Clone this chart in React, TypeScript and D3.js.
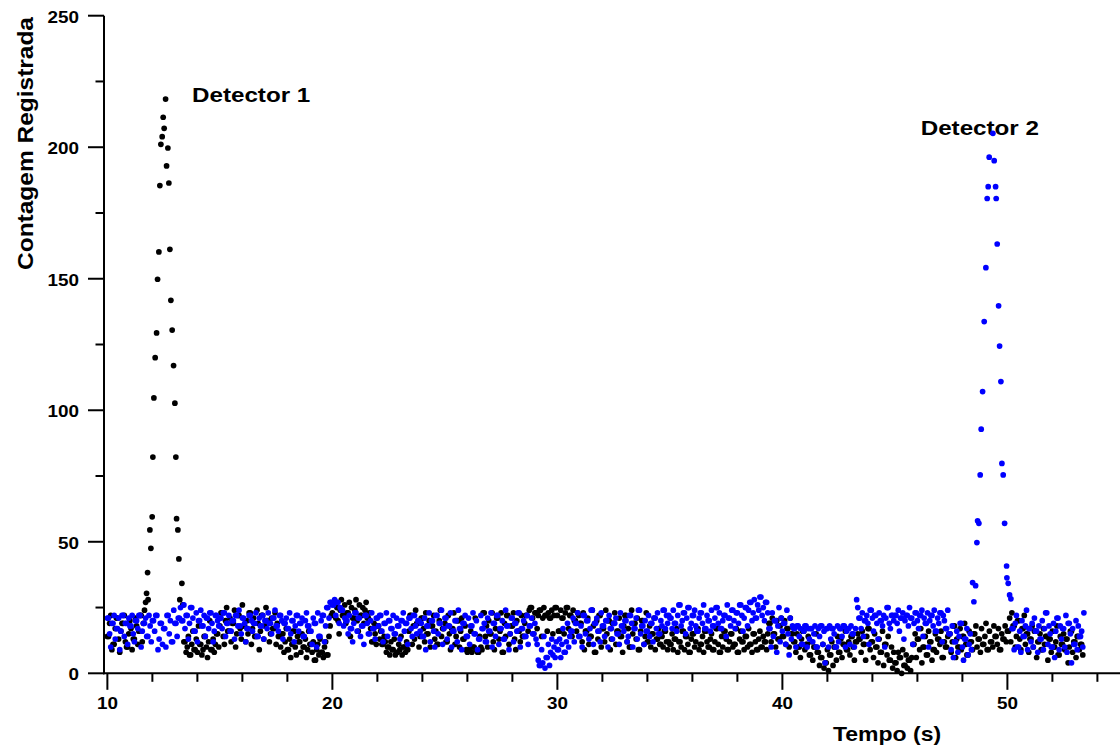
import React from 'react';
import * as d3 from 'd3';

// ---------- data ----------
const DT = 0.05;

// Detector 1 (black): background segments (start time, one count every DT) and the peak
const black1Start = 10.0;
const black1 = [14,14,19,22,9,11,11,17,21,21,13,8,16,19,19,22,12,10,10,15,20,17,9,13,13,21,18,11,16,22,22,12,19,24,27];
const blackPeakT = [11.742,11.787,11.81,11.889,11.933,11.991,12.022,12.067,12.124,12.187,12.231,12.289,12.333,12.378,12.436,12.48,12.524,12.587,12.631,12.689,12.733,12.778,12.822,12.88,12.942,13.0,13.044,13.076,13.133,13.178,13.22,13.311];
const blackPeakV = [30.4,38.3,28,54.5,47.5,59.5,82.2,104.7,120,129.4,149.8,160.2,185.4,201.1,204,211.4,207.2,218.3,192.9,199.7,186.4,161.2,141.8,130.5,117,102.7,82.2,58.8,54.5,43.5,28,34.2];
const black2Start = 13.35;
const black2 = [26,12,12,8,10,14,7,7,11,16,9,9,13,8,18,11,11,7,9,14,14,10,6,12,20,9,9,13,8,11,15,15,10,
  18,23,23,14,11,20,25,16,16,21,12,19,19,24,10,15,22,22,17,13,26,18,18,12,20,15,23,23,11,17,21,14,14,24,19,9,16,22,22,13,18,25,20,20,12,15,21,17,17,23,11,19,14,14,
  10,15,15,8,12,17,9,9,13,6,11,16,16,10,7,14,12,12,8,15,10,10,13,6,9,16,11,11,
  8,12,5,5,9,11,7,13,8,8,6,10,12,7,7,14,18,22];
const black3Start = 20.0;
const black3 = [23,27,27,21,25,20,15,24,28,22,22,26,19,23,23,27,14,25,21,21,24,28,20,16,26,22,22,25,19,24,27,21,21,23,
  17,12,12,19,15,11,18,18,13,16,11,11,14,12,
  8,10,10,7,12,9,9,13,7,8,8,11,9,14,7,10,10,8,12,9,
  16,22,22,11,18,13,24,19,19,10,14,21,21,17,12,23,15,15,20,10,18,18,22,13,16,11,11,20,24,14,17,17];
const black4Start = 25.0;
const black4 = [19,12,12,22,15,9,17,17,23,11,14,20,20,10,16,21,13,13,18,9,
  8,9,9,16,8,10,10,21,9,8,8,14,10,9,
  23,23,14,18,10,20,15,15,23,12,9,17,21,21,13,16,23,8,8,19,14,22,22,11,15,18,18,23,13,9,20,16,16,12,22,14,14,19,
  22,22,16,24,25,25,21,15,23,23,17,22,24,24,14,21,25,22,22,16,23,21,21,24,15,22,25,25];
const black5Start = 30.0;
const black5 = [22,16,16,24,21,21,15,23,25,25,17,22,22,14,24,20,20,16,23,22,
  19,19,12,23,9,16,16,21,11,14,14,24,18,8,8,20,13,22,22,10,
  17,17,12,24,15,20,20,9,13,19,19,23,11,16,16,21,14,14,8,18,
  22,22,12,17,10,10,24,15,19,19,13,21,9,9,16,20,20,11,14,23,
  12,12,18,10,15,15,21,9,13,13,17,11,11,14,10,16,16,12,9,12];
const black6Start = 35.0;
const black6 = [11,11,15,9,13,13,17,8,12,12,10,16,16,9,14,14,11,8,8,13,
  15,15,10,12,17,17,9,11,11,14,8,16,16,12,10,10,13,15,9,9,
  12,17,17,11,8,8,14,10,16,16,13,9,9,12,15,15,10,11,11,17,
  8,8,13,16,12,12,9,14,14,10,17,11,11,8,15,15,12,9,9,13,
  16,10,10,14,12,12,9,15,
  19,19,12,21,15,15,10,20,13,13,18,21];
const black7Start = 40.0;
const black7 = [14,14,20,11,17,17,10,21,15,15,
  12,12,8,15,10,10,6,13,16,16,9,11,11,14,7,7,12,5,10,10,
  15,8,8,3,6,6,11,2,4,4,9,1,7,7,12,3,10,10,5,14,
  8,8,13,6,11,11,16,9,9,12,7,14,14,10,5,12,12,15,
  13,13,8,16,11,11,5,14,17,17,9,12,12,6,15,10,10,4,13,8,8,16,3,11,11,7,14,5,5,10,2,8];
const black8Start = 45.0;
const black8 = [4,4,1,8,6,6,0,9,3,3,7,2,5,5,1,6,
  11,11,15,6,13,13,9,17,4,10,10,14,7,7,16,12,12,5,9,9,15,8,13,13,11,16,6,6,12,10,10,14,
  15,15,8,12,18,18,6,13,10,10,17,9,14,14,19,11,7,7,16,12,
  12,9,15,15,18,10,13,13,8,17,11,11,14,19,9,9,16,12,12,10,
  18,14,14,11,17,9,9,15,13,13,18,12];
const black9Start = 50.0;
const black9 = [16,16,21,12,23,18,18,10,14,20,20,13,9,17,17,22,11,15,15,8,
  13,13,18,10,16,16,6,12,12,15,9,9,17,11,14,14,5,13,13,8,
  16,10,10,12,18,7,7,14,11,11,15,9,13,13,4,10,16,16,8,12,
  12,6,14,14,9,11,11,7];

// Detector 2 (blue)
const blue1Start = 10.0;
const blue1 = [21,21,15,10,19,19,22,13,17,17,21,9,16,22,22,14,19,19,11,21,
  18,18,22,15,12,20,20,17,22,22,10,16,19,19,21,14,14,22,18,12,
  20,20,16,22,22,9,13,19,19,11,
  17,17,10,22,22,15,20,12,12,24,19,19,14,21,21,25,
  20,20,26,17,22,22,13,19,25,25,21,16,16,23,12,20,20,24,18,18,22,14,21,21,17,23,23,19,12,16,22,22,20,18];
const blue2Start = 15.0;
const blue2 = [21,21,17,23,23,14,19,19,22,16,16,20,20,13,22,22,18,24,18,15,
  21,21,19,12,17,17,22,22,20,16,19,19,23,14,14,21,18,18,22,13,
  20,20,17,23,19,19,15,21,21,24,18,18,16,22,22,20,13,19,19,21,
  17,17,23,15,20,20,12,18,22,22,16,19,19,21,14,14,20,23,18,18,
  16,16,11,21,19,19,10,23,14,14,20,22,22,12,18,25,25,21,27,27];
const blue3Start = 20.0;
const blue3 = [26,26,28,22,27,27,19,25,24,24,18,21,
  20,20,15,22,17,17,12,19,23,23,16,21,21,14,18,18,11,22,22,19,
  15,15,20,23,17,17,13,21,21,18,22,22,16,12,19,19,23,14,20,20,
  17,17,22,15,15,21,18,18,13,20,20,23,16,19,19,11,21,21,17,14,
  22,22,18,15,20,20,16,19,
  14,14,21,9,18,18,23,12,20,20,16,10,22,22,15,19,19,24,11,17];
const blue4Start = 25.0;
const blue4 = [21,21,13,18,18,23,10,16,16,20,20,12,24,17,17,9,19,19,22,14,
  14,21,11,18,18,23,15,15,20,9,13,13,22,17,17,19,12,12,21,16,
  16,23,10,19,19,14,22,22,11,17,17,20,13,13,24,18,18,9,15,21,
  21,12,19,19,16,23,23,10,17,17,20,14,14,22,11,18,18,21,15,15,
  19,13,
  11,5,3,3,9,4,14,2,6,6,11,3,8,13,
  7,10,6,12];
const blue5Start = 30.0;
const blue5 = [9,9,13,6,11,17,8,8,12,19,10,14,
  16,16,21,12,19,19,23,14,14,18,10,22,22,15,20,20,13,17,24,24,
  11,19,19,21,16,16,12,23,18,18,14,20,20,10,22,17,17,13,19,19,
  21,15,15,11,23,18,18,16,20,20,12,14,22,22,19,10,17,17,21,13,
  24,24,15,18,18,11,20,16,16,22,14,19,19,12,21,21,17,23,15,15,
  20,18,
  24,24,17,22,19,22];
const blue6Start = 35.0;
const blue6 = [21,21,17,24,19,19,16,22,26,26,18,20,23,23,15,21,25,25,17,19,
  22,22,24,18,16,16,21,23,23,19,26,17,17,22,20,20,16,24,18,18,
  21,25,25,19,23,17,17,20,22,22,14,26,21,21,18,24,24,20,17,23,
  23,19,26,26,22,16,21,25,25,18,24,27,27,20,23,28,21,21,26,24,
  29,29,22,25,20,27,27,23,
  17,17,10,23,14,20,20,8,18,25,12,21];
const blue7Start = 40.0;
const blue7 = [16,19,19,11,24,15,7,21,13,18,
  17,17,10,18,18,14,17,11,11,16,18,18,10,17,13,17,17,12,15,18,
  10,10,17,14,18,18,11,16,4,17,17,10,18,13,17,17,15,10,10,18,
  12,17,17,14,18,18,10,16,17,17,11,18,15,15,10,17,
  28,25,
  21,21,17,23,14,20,20,22,19,11,24,24,21,16,22,22,19,13,23,20,20,18,22,10,21,25,25,19,17,22,22,20];
const blue8Start = 45.0;
const blue8 = [22,22,19,24,16,21,21,23,13,20,22,22,18,25,21,21,11,19,23,23,
  20,17,22,22,24,14,21,19,19,23,10,20,22,22,18,24,16,16,21,19,
  23,23,12,22,20,17,17,24,
  15,15,9,18,6,12,12,16,8,14,19,19,10,5,13,13,17,7,11,15,9];
const bluePeakT = [48.453,48.511,48.587,48.644,48.676,48.733,48.791,48.836,48.898,48.969,49.044,49.102,49.147,49.191,49.356,49.413,49.476,49.502,49.547,49.609,49.653,49.711,49.756,49.813,49.876,49.964,49.978,50.036,50.098,50.156];
const bluePeakV = [34.5,27.2,33.3,49.7,58,57,75.4,92.8,107.1,133.7,154.2,180.5,185,196.2,205.3,194.9,185,180.5,163.2,139.7,124.4,110.9,79.8,75.4,57,40.8,36.3,34.2,29.8,28.3];
const blue9Start = 50.2;
const blue9 = [17,17,9,19,22,10,10,16,8,20,14,14,18,24,9,17,17,12,19,10,
  21,16,16,8,18,13,13,20,9,17,23,23,11,18,15,10,10,19,6,16,
  21,21,9,18,13,17,17,10,22,8,19,19,15,4,17,11,11,20,9,18,
  14,14,16,10,23];

const xTickValues = d3.range(10, 55, 2);
const yTickValues = d3.range(0, 251, 25);
const xTitle = 'Tempo (s)';
const yTitle = 'Contagem Registrada';
const label1 = 'Detector 1';
const label2 = 'Detector 2';

// ---------- helpers ----------
type P = { t: number; v: number };
const seg = (t0: number, vals: number[]): P[] => vals.map((v, i) => ({ t: t0 + i * DT, v }));
const pairs = (ts: number[], vs: number[]): P[] => ts.map((t, i) => ({ t, v: vs[i] }));

const blackPts: P[] = [
  ...seg(black1Start, black1), ...pairs(blackPeakT, blackPeakV), ...seg(black2Start, black2),
  ...seg(black3Start, black3), ...seg(black4Start, black4), ...seg(black5Start, black5),
  ...seg(black6Start, black6), ...seg(black7Start, black7), ...seg(black8Start, black8),
  ...seg(black9Start, black9),
];
const bluePts: P[] = [
  ...seg(blue1Start, blue1), ...seg(blue2Start, blue2), ...seg(blue3Start, blue3),
  ...seg(blue4Start, blue4), ...seg(blue5Start, blue5), ...seg(blue6Start, blue6),
  ...seg(blue7Start, blue7), ...seg(blue8Start, blue8), ...pairs(bluePeakT, bluePeakV),
  ...seg(blue9Start, blue9),
];

const W = 1120;
const H = 751;
const FONT = '"Liberation Sans", Arial, Helvetica, sans-serif';
const SX = 1.18;
const R = 2.85;

export default function App() {
  const x = d3.scaleLinear().domain([9.85, 55]).range([104, 1119.9]);
  const y = d3.scaleLinear().domain([0, 250]).range([673.3, 15.7]);
  const axisY = y(0);
  const axisX = x(9.85);
  return (
    <svg width={W} height={H} style={{ position: 'absolute', left: 0, top: 0, background: '#fff' }}
      fontFamily={FONT} fontWeight="bold">
      <rect x={0} y={0} width={W} height={H} fill="#fff" />
      {/* labels */}
      <text transform={`translate(192,101.7) scale(${SX},1)`} fontSize={20.5}>{label1}</text>
      <text transform={`translate(920.7,135) scale(${SX},1)`} fontSize={20.5}>{label2}</text>
      {/* points */}
      <g fill="#000">
        {blackPts.map((p, i) => <circle key={i} cx={x(p.t)} cy={y(p.v)} r={R} />)}
      </g>
      <g fill="#0000ff">
        {bluePts.map((p, i) => <circle key={i} cx={x(p.t)} cy={y(p.v)} r={R} />)}
      </g>
      {/* axes */}
      <g stroke="#000" strokeWidth={2} fill="none">
        <line x1={axisX} x2={axisX} y1={y(250)} y2={axisY + 1} />
        <line x1={axisX - 1} x2={W} y1={axisY} y2={axisY} />
        {yTickValues.map(v => (
          <line key={'yt' + v} x1={axisX - (v % 50 === 0 ? 16 : 8.5)} x2={axisX} y1={y(v)} y2={y(v)} />
        ))}
        {xTickValues.map(v => (
          <line key={'xt' + v} x1={x(v)} x2={x(v)} y1={axisY} y2={axisY + (v % 10 === 0 ? 16.5 : 8.5)} />
        ))}
      </g>
      <g fontSize={16} fill="#000">
        {yTickValues.filter(v => v % 50 === 0).map(v => (
          <text key={'yl' + v} transform={`translate(79,${y(v) + 6.8}) scale(${SX},1)`} textAnchor="end">{v}</text>
        ))}
        {xTickValues.filter(v => v % 10 === 0).map(v => (
          <text key={'xl' + v} transform={`translate(${x(v)},709.3) scale(${SX},1)`} textAnchor="middle">{v}</text>
        ))}
      </g>
      <text transform={`translate(887,741) scale(${SX},1)`} fontSize={19.5} textAnchor="middle">{xTitle}</text>
      <text transform={`translate(33,143.5) rotate(-90)`} fontSize={22} textAnchor="middle"
        textLength={253} lengthAdjust="spacingAndGlyphs">{yTitle}</text>
    </svg>
  );
}
